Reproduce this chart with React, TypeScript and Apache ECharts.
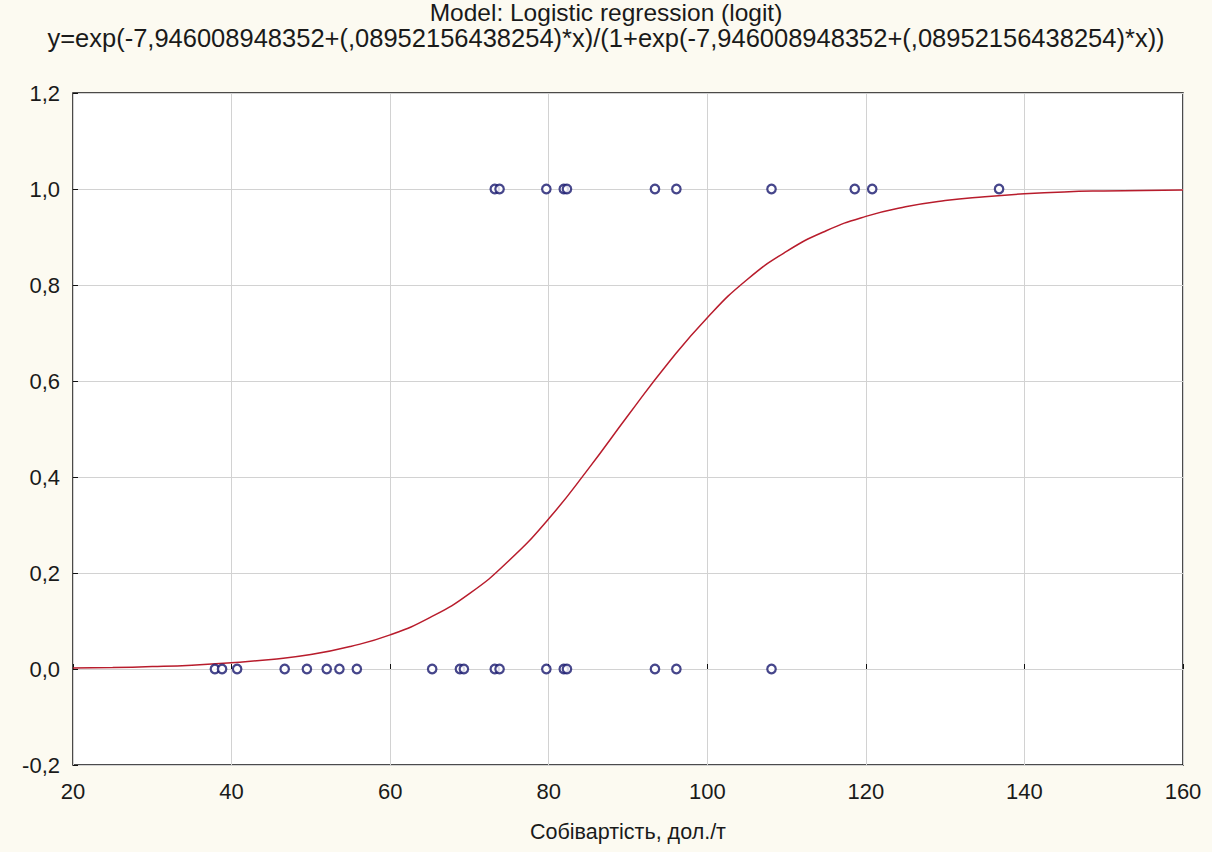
import React, { useEffect, useRef } from "react";
import * as echarts from "echarts";

const titleText = "Model: Logistic regression (logit)";
const formulaText =
  "y=exp(-7,946008948352+(,08952156438254)*x)/(1+exp(-7,946008948352+(,08952156438254)*x))";
const xAxisName = "Собівартість, дол./т";

// observed points (cost, outcome)
const zeroX = [37.9, 38.8, 40.7, 46.7, 49.5, 52.0, 53.6, 55.8, 65.3, 68.8, 69.3, 73.2, 73.8, 79.7, 81.9, 82.3, 93.4, 96.1, 108.1];
const oneX = [73.2, 73.8, 79.7, 81.9, 82.3, 93.4, 96.1, 108.1, 118.6, 120.8, 136.8];

// fitted curve
const curveX = [20, 25, 30, 35, 40, 45, 50, 55, 60, 65, 70, 75, 80, 85, 90, 95, 100, 105, 110, 115, 120, 125, 130, 135, 140, 145, 150, 155, 160];
const curveY = [0.002, 0.003, 0.005, 0.008, 0.013, 0.020, 0.030, 0.047, 0.071, 0.107, 0.157, 0.226, 0.313, 0.417, 0.528, 0.636, 0.732, 0.811, 0.870, 0.913, 0.943, 0.963, 0.976, 0.984, 0.990, 0.994, 0.996, 0.997, 0.998];

const FONT = "'Liberation Sans', Arial, sans-serif";

export default function App() {
  const ref = useRef<HTMLDivElement>(null);
  useEffect(() => {
    if (!ref.current) return;
    const chart = echarts.init(ref.current, null, { renderer: "svg" });
    const points = [
      ...zeroX.map((x) => [x, 0]),
      ...oneX.map((x) => [x, 1]),
    ];
    chart.setOption({
      animation: false,
      backgroundColor: "#fcfaf1",
      title: [
        {
          text: titleText,
          left: "center",
          top: -5,
          textStyle: { fontFamily: FONT, fontSize: 24.5, fontWeight: "normal", color: "#1a1a1a" },
        },
        {
          text: formulaText,
          left: "center",
          top: 20,
          textStyle: { fontFamily: FONT, fontSize: 25.5, fontWeight: "normal", color: "#1a1a1a" },
        },
      ],
      grid: {
        left: 73,
        right: 29,
        top: 93,
        bottom: 87,
        show: true,
        backgroundColor: "#ffffff",
        borderColor: "#111",
        borderWidth: 1.5,
      },
      xAxis: {
        type: "value",
        min: 20,
        max: 160,
        interval: 20,
        name: xAxisName,
        nameLocation: "middle",
        nameGap: 56,
        nameTextStyle: { fontFamily: FONT, fontSize: 21.5, color: "#1a1a1a" },
        axisLine: { show: false },
        axisTick: { show: true, inside: true, length: 5, lineStyle: { color: "#111" } },
        axisLabel: { fontFamily: FONT, fontSize: 22, color: "#1a1a1a", margin: 15 },
        splitLine: { show: true, lineStyle: { color: "#d2d2d2", width: 1 } },
      },
      yAxis: {
        type: "value",
        min: -0.2,
        max: 1.2,
        interval: 0.2,
        axisLine: { show: false },
        axisTick: { show: true, inside: true, length: 5, lineStyle: { color: "#111" } },
        axisLabel: {
          fontFamily: FONT,
          fontSize: 22,
          color: "#1a1a1a",
          margin: 13,
          formatter: (v: number) => v.toFixed(1).replace(".", ","),
        },
        splitLine: { show: true, lineStyle: { color: "#d2d2d2", width: 1 } },
      },
      series: [
        {
          type: "line",
          data: curveX.map((x, i) => [x, curveY[i]]),
          smooth: true,
          showSymbol: false,
          lineStyle: { color: "#b81c2c", width: 1.5 },
          z: 2,
        },
        {
          type: "scatter",
          data: points,
          symbol: "circle",
          symbolSize: 8.5,
          itemStyle: { color: "#ffffff", borderColor: "#18186e", borderWidth: 2.2 },
          z: 3,
        },
      ],
    });
    return () => chart.dispose();
  }, []);
  return (
    <div
      ref={ref}
      style={{ position: "fixed", left: 0, top: 0, width: 1212, height: 852 }}
    />
  );
}
